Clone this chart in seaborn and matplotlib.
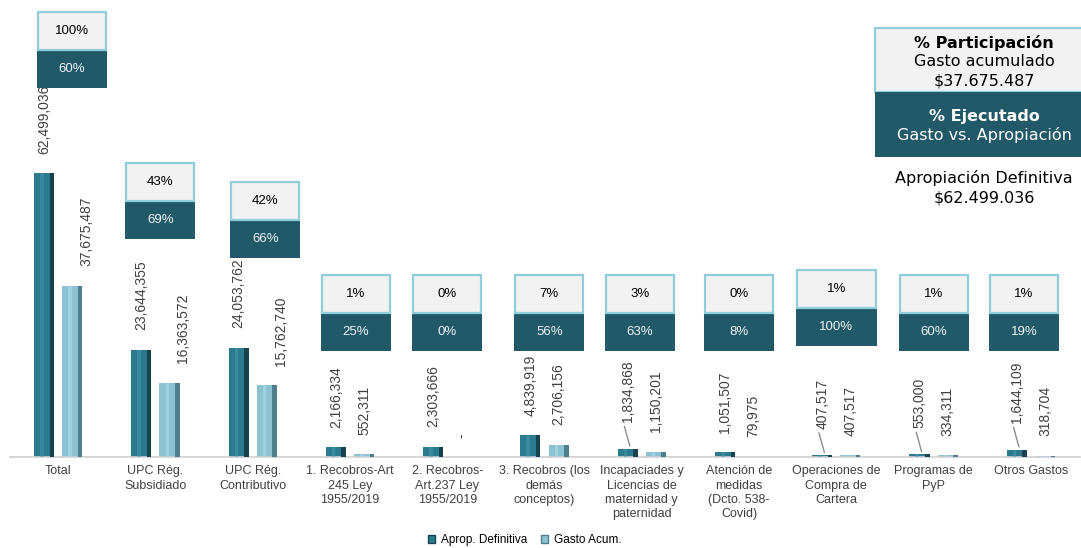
import numpy as np
import pandas as pd
import matplotlib
matplotlib.use('Agg')
import matplotlib.pyplot as plt
import matplotlib.transforms as mtransforms
from matplotlib.patches import Rectangle, Patch
import seaborn as sns

# ---- Data ----
categorias = ['Total', 'UPC Rég.\nSubsidiado', 'UPC Rég.\nContributivo',
              '1. Recobros-Art\n245 Ley\n1955/2019', '2. Recobros-\nArt.237 Ley\n1955/2019',
              '3. Recobros (los\ndemás\nconceptos)',
              'Incapaciades y\nLicencias de\nmaternidad y\npaternidad',
              'Atención de\nmedidas\n(Dcto. 538-\nCovid)',
              'Operaciones de\nCompra de\nCartera', 'Programas de\nPyP', 'Otros Gastos']
aprop_definitiva = [62499036, 23644355, 24053762, 2166334, 2303666, 4839919,
                    1834868, 1051507, 407517, 553000, 1644109]
gasto_acum = [37675487, 16363572, 15762740, 552311, 0, 2706156,
              1150201, 79975, 407517, 334311, 318704]
participacion = ['100%', '43%', '42%', '1%', '0%', '7%', '3%', '0%', '1%', '1%', '1%']
ejecutado = ['60%', '69%', '66%', '25%', '0%', '56%', '63%', '8%', '100%', '60%', '19%']
series = ['Aprop. Definitiva', 'Gasto Acum.']

# ---- Layout for the % boxes (pixel tops, x offsets in category units) ----
box_top_px = [12, 163, 182, 275, 275, 275, 275, 275, 270, 275, 275]
box_dx = [0.14, 0.05, 0.13, 0.06, 0.0, 0.05, -0.02, 0.0, 0.0, 0.0, -0.07]
box_w = [0.70] * 11
box_w[8] = 0.81
leader = [False] * 11
for i in (6, 8, 9, 10):
    leader[i] = True

DARK = '#2B7A8E'
LIGHT = '#8CC3D3'
BOX_DARK = '#215968'
BOX_LIGHT = '#F2F2F2'
BOX_EDGE = '#92CDDC'

df = pd.DataFrame({
    'categoria': categorias * 2,
    'valor': aprop_definitiva + gasto_acum,
    'serie': [series[0]] * len(categorias) + [series[1]] * len(categorias),
})

W, H = 1081, 548
fig = plt.figure(figsize=(W / 100, H / 100), dpi=100)
ax_left, ax_right, ax_base = 9.5, 1079.5, 457
ax = fig.add_axes([ax_left / W, (H - ax_base) / H, (ax_right - ax_left) / W, ax_base / H])

sns.barplot(data=df, x='categoria', y='valor', hue='serie', order=categorias,
            palette=[DARK, LIGHT], width=0.58, gap=0.29, ax=ax, legend=False,
            saturation=1, errorbar=None)

ax.set_ylim(0, 100.6e6)
ax.set_xlim(-0.5, len(categorias) - 0.5)
for s in ['top', 'right', 'left']:
    ax.spines[s].set_visible(False)
ax.spines['bottom'].set_color('#D0D0D0')
ax.spines['bottom'].set_linewidth(1.2)
ax.set_yticks([])
ax.set_xlabel('')
ax.set_ylabel('')
ax.tick_params(axis='x', length=0, pad=6)
ax.set_xticks(range(len(categorias)))
ax.set_xticklabels(categorias, fontsize=9, color='#404040', family='Liberation Sans',
                   linespacing=1.25)

# simple bevel shading on the bars
shades = [('#17434F', '#4A9BB0'), ('#4E7F8C', '#B5E0EC')]
for k, cont in enumerate(ax.containers):
    dark_c, hi_c = shades[k]
    for p in cont.patches:
        x0, w, h = p.get_x(), p.get_width(), p.get_height()
        if h <= 0:
            continue
        ax.add_patch(Rectangle((x0 + w * 0.78, 0), w * 0.22, h, color=dark_c, lw=0, zorder=3))
        ax.add_patch(Rectangle((x0 + w * 0.30, 0), w * 0.18, h, color=hi_c, lw=0, alpha=0.5, zorder=3))

# value labels
for k, cont in enumerate(ax.containers):
    vals = aprop_definitiva if k == 0 else gasto_acum
    for i, p in enumerate(cont.patches):
        v = vals[i]
        xc = p.get_x() + p.get_width() / 2
        txt = f'{v:,.0f}' if v else '-'
        dx = 10 if (k == 1 and i < 3) else 0
        dy = 19 if (k == 0 and leader[i]) else 14
        ax.annotate(txt, xy=(xc, v), xytext=(dx, dy), textcoords='offset points',
                    rotation=90, ha='center', va='bottom', fontsize=10,
                    color='#404040', family='Liberation Sans')
        if k == 0 and leader[i]:
            ax.annotate('', xy=(xc + 0.03, v), xytext=(-5, 18), textcoords='offset points',
                        arrowprops=dict(arrowstyle='-', color='#8C8C8C', lw=1))

# % boxes above each category
trans = mtransforms.blended_transform_factory(ax.transData, ax.transAxes)
hb = 38 / ax_base
for i in range(len(categorias)):
    top = (ax_base - box_top_px[i]) / ax_base
    xc = i + box_dx[i]
    w = box_w[i]
    ax.add_patch(Rectangle((xc - w / 2 - 0.01, top - 2 * hb), w + 0.02, hb,
                           transform=trans, facecolor=BOX_DARK, edgecolor='none',
                           clip_on=False, zorder=5))
    ax.add_patch(Rectangle((xc - w / 2, top - hb), w, hb, transform=trans,
                           facecolor=BOX_LIGHT, edgecolor=BOX_EDGE, lw=1.6,
                           clip_on=False, zorder=6))
    ax.text(xc, top - hb / 2, participacion[i], transform=trans, ha='center', va='center',
            fontsize=9.5, color='black', family='Liberation Sans', zorder=7)
    ax.text(xc, top - 1.5 * hb, ejecutado[i], transform=trans, ha='center', va='center',
            fontsize=9.5, color='#EEF4F6', family='Liberation Sans', zorder=7)

# explanatory box (top right)
fig.patches.append(Rectangle((875 / W, 1 - 92 / H), 210 / W, 64 / H, transform=fig.transFigure,
                             facecolor=BOX_LIGHT, edgecolor=BOX_EDGE, lw=1.6, figure=fig))
fig.patches.append(Rectangle((875 / W, 1 - 157 / H), 210 / W, 65 / H, transform=fig.transFigure,
                             facecolor=BOX_DARK, edgecolor='none', figure=fig))
cx = 984 / W
fs = 11.5
fig.text(cx, 1 - 43 / H, '% Participación', ha='center', va='center', fontsize=fs,
         fontweight='bold', family='DejaVu Sans')
fig.text(cx, 1 - 62 / H, 'Gasto acumulado', ha='center', va='center', fontsize=fs,
         family='DejaVu Sans')
fig.text(cx, 1 - 81 / H, '$37.675.487', ha='center', va='center', fontsize=fs,
         family='DejaVu Sans')
fig.text(cx, 1 - 116 / H, '% Ejecutado', ha='center', va='center', fontsize=fs,
         fontweight='bold', color='white', family='DejaVu Sans')
fig.text(cx, 1 - 135 / H, 'Gasto vs. Apropiación', ha='center', va='center', fontsize=fs,
         color='white', family='DejaVu Sans')
fig.text(cx, 1 - 178 / H, 'Apropiación Definitiva', ha='center', va='center', fontsize=fs,
         family='DejaVu Sans')
fig.text(cx, 1 - 198 / H, '$62.499.036', ha='center', va='center', fontsize=fs,
         family='DejaVu Sans')

# legend at the bottom
handles = [Patch(facecolor=DARK, edgecolor='#17434F'), Patch(facecolor=LIGHT, edgecolor='#4E7F8C')]
fig.legend(handles, series, loc='center', bbox_to_anchor=(525 / W, 1 - 540 / H), ncol=2,
           frameon=False, handlelength=0.6, handleheight=0.6,
           handletextpad=0.5, columnspacing=1.2, prop={'family': 'Liberation Sans', 'size': 8.5})

fig.savefig('out.png', dpi=100)
